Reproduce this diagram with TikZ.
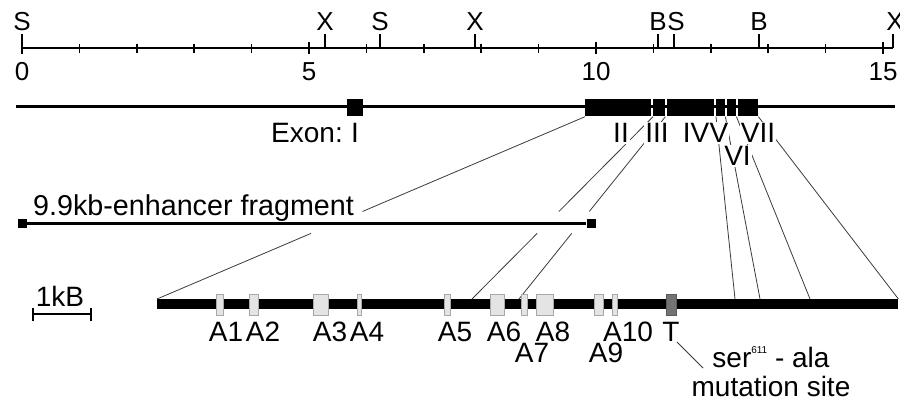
\documentclass[tikz,border=0pt]{standalone}
\usepackage{fontspec}
\setmainfont{Liberation Sans}
\usetikzlibrary{calc}
\definecolor{boxfill}{HTML}{E4E4E4}
\definecolor{boxline}{HTML}{A8A8A8}
\definecolor{tfill}{HTML}{737373}
\definecolor{linkcol}{HTML}{3A3A3A}
\begin{document}
\begin{tikzpicture}[x=1pt,y=-1pt,
  lbl/.style={font=\fontsize{28}{30}\selectfont, inner sep=0pt},
  biglbl/.style={font=\fontsize{28.7}{30}\selectfont, inner sep=0pt},
  toplbl/.style={font=\fontsize{26}{28}\selectfont, inner sep=0pt},
  rlbl/.style={lbl, fill=white, inner sep=1pt},
  exonbox/.style={fill=black, inner sep=0pt, minimum height=17pt, anchor=west},
  abox/.style={fill=boxfill, draw=boxline, line width=0.8pt, inner sep=0pt, minimum height=21pt},
  link/.style={line width=0.8pt, draw=linkcol},
  rule/.style={line width=1.6pt},
  gene/.style={line width=3pt},
  endsq/.style={fill=black, inner sep=0pt, minimum size=9pt},
]
\useasboundingbox (0,0) rectangle (900,401);

% ---------- kb scale ----------
\coordinate (s0) at (22,48);
\coordinate (s15) at (893,48);
\draw[rule] (s0) -- (s15);
\foreach \k in {1,2,3,4,6,7,8,9,11,12,13,14}
  \draw[rule] ({22+57.4*\k},44) -- ({22+57.4*\k},53);
\foreach \k in {0,5,10,15}{
  \draw[rule] ({22+57.4*\k},42) -- ({22+57.4*\k},54);
  \node[toplbl] (n\k) at ({22+57.4*\k},71.5) {\k};
}
\foreach \x/\lx/\t [count=\i] in {22/22/S,325/325/X,380/380/S,475/475/X,658/658/B,674/676/S,759/759/B,893/895/X}{
  \draw[rule] (\x,48) -- (\x,34);
  \node[toplbl] (r\i) at (\lx,21.5) {\t};
}

% ---------- gene ----------
\coordinate (gl) at (16,107);
\coordinate (gr) at (895,107);
\draw[gene] (gl) -- (gr);
\node[exonbox, minimum width=16pt] (e1) at (347,108) {};
\node[exonbox, minimum width=66pt] (e2) at (585,108) {};
\node[exonbox, minimum width=12pt] (e3) at (653,108) {};
\node[exonbox, minimum width=47pt] (e4) at (667,108) {};
\node[exonbox, minimum width=9pt]  (e5) at (716,108) {};
\node[exonbox, minimum width=9pt]  (e6) at (727,108) {};
\node[exonbox, minimum width=20pt] (e7) at (738,108) {};

% ---------- enhancer fragment ----------
\node[endsq] (fl) at (22.5,223) {};
\node[endsq] (fr) at (591,223) {};
\draw[gene] (fl) -- (fr);
\node[biglbl, anchor=base west] (frag) at (33,215) {9.9kb-enhancer fragment};

% ---------- enlarged region bar ----------
\node[fill=black, inner sep=0pt, minimum width=741pt, minimum height=10pt, anchor=north west] (bar) at (157,299) {};
\coordinate (ba) at (472,299);
\coordinate (bb) at (519,299);
\coordinate (b5) at (735,299);
\coordinate (b6) at (760,299);
\coordinate (b7) at (810,299);

% ---------- zoom lines ----------
\draw[link] (e2.south west) -- ($(e2.south west)!0.52!(bar.north west)$)
            ($(e2.south west)!0.64!(bar.north west)$) -- (bar.north west);
\draw[link] (e3.south west) -- ($(e3.south west)!0.52!(ba)$)
            ($(e3.south west)!0.64!(ba)$) -- (ba);
\draw[link] (e3.south east) -- ($(e3.south east)!0.52!(bb)$)
            ($(e3.south east)!0.64!(bb)$) -- (bb);
\draw[link] (e5.south west) -- (b5);
\draw[link] (e5.south east) -- (b6);
\draw[link] (e6.south east) -- (b7);
\draw[link] (e7.south east) -- (bar.north east);

% ---------- exon labels ----------
\node[rlbl, anchor=east] (exl) at (344,133) {Exon:};
\node[rlbl] (l1) at (355,133) {I};
\node[rlbl] (l2) at (621,133) {II};
\node[rlbl] (l3) at (657,133) {III};
\node[rlbl] (l4) at (696,133) {IV};
\node[rlbl] (l5) at (719,133) {V};
\node[rlbl] (l7) at (758,133) {VII};
\node[rlbl] (l6) at (737.5,156) {VI};

% ---------- A boxes ----------
\node[abox, minimum width=7pt]  (a1)  at (219.5,304.5) {};
\node[abox, minimum width=9pt]  (a2)  at (253.5,304.5) {};
\node[abox, minimum width=15pt] (a3)  at (320.5,304.5) {};
\node[abox, minimum width=4pt]  (a4)  at (359,304.5) {};
\node[abox, minimum width=6pt]  (a5)  at (447,304.5) {};
\node[abox, minimum width=14pt] (a6)  at (497,304.5) {};
\node[abox, minimum width=6pt]  (a7)  at (524,304.5) {};
\node[abox, minimum width=17pt] (a8)  at (544.5,304.5) {};
\node[abox, minimum width=9pt]  (a9)  at (598.5,304.5) {};
\node[abox, minimum width=5pt]  (a10) at (614.5,304.5) {};
\node[abox, minimum width=10pt, fill=tfill, draw=tfill!80!black] (t) at (671,304.5) {};

\node[lbl, anchor=base] (al1) at (226,341) {A1};
\node[lbl, anchor=base] (al2) at (263,341) {A2};
\node[lbl, anchor=base] (al3) at (330,341) {A3};
\node[lbl, anchor=base] (al4) at (367,341) {A4};
\node[lbl, anchor=base] (al5) at (455,341) {A5};
\node[lbl, anchor=base] (al6) at (504,341) {A6};
\node[lbl, anchor=base] (al8) at (553,341) {A8};
\node[lbl, anchor=base] (al10) at (628,341) {A10};
\node[lbl, anchor=base] (al7) at (532,362) {A7};
\node[lbl, anchor=base] (al9) at (606,362) {A9};
\node[lbl, anchor=base] (tl) at (671,341) {T};

% ---------- mutation note ----------
\coordinate (m1) at (677,342);
\coordinate (m2) at (703,368);
\draw[link] (m1) -- (m2);
\node[lbl, anchor=base] (mut1) at (771,367) {ser{\fontsize{10}{10}\selectfont\raisebox{14pt}{611}} - ala};
\node[lbl, anchor=base] (mut2) at (771,396) {mutation site};

% ---------- 1 kB scale bar ----------
\node[lbl] (kb) at (60,296) {1kB};
\coordinate (k1) at (33,314);
\coordinate (k2) at (91,314);
\draw[rule] (k1) -- (k2);
\draw[rule] ($(k1)+(0,-6.5)$) -- ($(k1)+(0,6.5)$);
\draw[rule] ($(k2)+(0,-6.5)$) -- ($(k2)+(0,6.5)$);
\end{tikzpicture}
\end{document}
